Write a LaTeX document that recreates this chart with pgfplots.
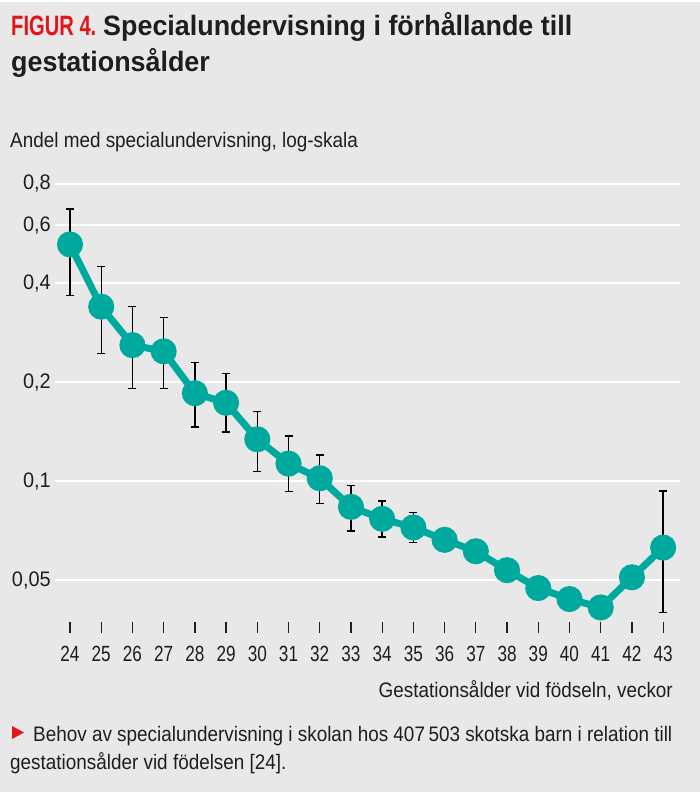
\documentclass[border=0pt]{standalone}
\usepackage{fontspec}
\setmainfont{Liberation Sans}[FakeStretch=0.90]
\newfontfamily\figfont{Liberation Sans}[FakeStretch=0.72]
\newfontfamily\titfont{Liberation Sans}[FakeStretch=0.96]
\newfontfamily\tickfont{Liberation Sans}[FakeStretch=0.78]
\newfontfamily\ytickfont{Liberation Sans}[FakeStretch=0.95]
\usepackage{pgfplots}
\pgfplotsset{compat=1.18}
\usepackage{pgfplotstable}
\definecolor{bg}{HTML}{E8E8E8}
\definecolor{tealc}{HTML}{00A99D}
\definecolor{figred}{HTML}{E3141B}
\definecolor{txt}{HTML}{1E1E1E}

\pgfplotstableread{
x y
24 0.524
25 0.339
26 0.259
27 0.248
28 0.185
29 0.173
30 0.134
31 0.113
32 0.102
33 0.0835
34 0.0768
35 0.0723
36 0.0663
37 0.0612
38 0.0536
39 0.0473
40 0.0438
41 0.0413
42 0.0510
43 0.0628
}\maindata

\pgfplotstableread{
x y ep em
24 0.524 0.147 0.157
25 0.339 0.110 0.095
26 0.259 0.081 0.068
27 0.248 0.066 0.057
28 0.185 0.044 0.039
29 0.173 0.039 0.032
30 0.134 0.029 0.027
31 0.113 0.024 0.0201
32 0.102 0.018 0.0166
33 0.0835 0.0135 0.0129
34 0.0768 0.0102 0.0092
35 0.0723 0.0079 0.0073
36 0.0663 0.0053 0.0051
37 0.0612 0.0037 0.0032
42 0.0510 0.0034 0.0034
43 0.0628 0.0305 0.0229
}\errdata

\begin{document}
\begin{tikzpicture}[x=1pt,y=1pt]
\useasboundingbox (0,0) rectangle (700,-792);
\fill[bg] (0,0) rectangle (700,-792);
\fill[white] (0,0) rectangle (700,-2);
\begin{axis}[
  at={(55pt,-622pt)}, anchor=south west,
  scale only axis, width=625pt, height=438pt,
  ymode=log, ymin=0.0373, ymax=0.8,
  xmin=23.52, xmax=43.54,
  axis line style={draw=none},
  xtick={24,25,...,43}, xtick pos=bottom, ytick pos=left,
  tick align=outside,
  x tick style={draw=txt, line width=1.3pt},
  major tick length=11pt,
  y tick style={draw=none},
  ytick={0.05,0.1,0.2,0.4,0.6,0.8},
  yticklabels={{0,05},{0,1},{0,2},{0,4},{0,6},{0,8}},
  yminorticks=false,
  ymajorgrids, grid style={white, line width=2.5pt},
  /pgf/number format/assume math mode=true,
  xticklabel style={font=\tickfont\fontsize{22}{26}\selectfont, text=txt, yshift=-10pt},
  yticklabel style={font=\ytickfont\fontsize{21}{24}\selectfont, text=txt, anchor=east, inner sep=0pt, xshift=7pt},
  clip=false,
]
\addplot[draw=none, mark=none,
  error bars/.cd, y dir=both, y explicit,
  error bar style={draw=black, line width=1.4pt},
  error mark options={draw=black, line width=1.4pt, mark size=4pt, rotate=90}]
  table[x=x, y=y, y error plus=ep, y error minus=em] {\errdata};
\addplot[color=tealc, line width=7pt, mark=*, mark size=9.5pt,
  mark options={fill=tealc, draw=none}] table[x=x, y=y] {\maindata};
\end{axis}
\node[anchor=base west, inner sep=0, text=figred, font=\figfont\bfseries\fontsize{28}{32}\selectfont] (fig) at (11,-36) {FIGUR 4.};
\node[anchor=base west, inner sep=0, text=txt, font=\titfont\bfseries\fontsize{28}{32}\selectfont] at (103,-36) {Specialundervisning i förhållande till};
\node[anchor=base west, inner sep=0, text=txt, font=\titfont\bfseries\fontsize{28}{32}\selectfont] at (11,-71.5) {gestationsålder};
\node[anchor=base west, inner sep=0, text=txt, font=\fontsize{21}{24}\selectfont] at (10,-147) {Andel med specialundervisning, log-skala};
\node[anchor=base east, inner sep=0, text=txt, font=\fontsize{21}{24}\selectfont] at (673,-697) {Gestationsålder vid födseln, veckor};
\fill[figred] (12,-726) -- (24,-732.5) -- (12,-739) -- cycle;
\node[anchor=base west, inner sep=0, text=txt, font=\fontsize{21}{24}\selectfont] at (33,-741) {Behov av specialundervisning i skolan hos 407\,503 skotska barn i relation till};
\node[anchor=base west, inner sep=0, text=txt, font=\fontsize{21}{24}\selectfont] at (10,-769) {gestationsålder vid födelsen [24].};
\end{tikzpicture}
\end{document}
